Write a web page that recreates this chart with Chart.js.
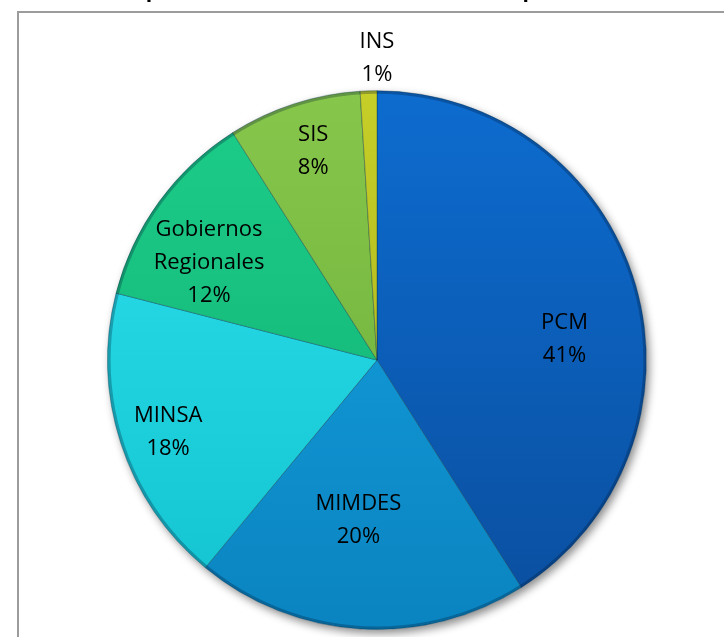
<!DOCTYPE html>
<html>
<head>
<meta charset="utf-8">
<script src="https://cdn.jsdelivr.net/npm/chart.js@4/dist/chart.umd.min.js"></script>
<style>
  html, body { margin: 0; padding: 0; background: #fff; overflow: hidden; }
  body { width: 724px; height: 637px; position: relative; }
  #marco { position: absolute; left: 17px; top: 11px; width: 800px; height: 700px; border: 2px solid #9c9c9c; box-sizing: border-box; }
  #caja { position: absolute; left: 0; top: -22px; width: 724px; height: 659px; }
</style>
</head>
<body>
<div id="marco"></div>
<div id="caja"><canvas id="torta"></canvas></div>
<script>
// datos del grafico
var entidades = ['PCM', 'MIMDES', 'MINSA', 'Gobiernos Regionales', 'SIS', 'INS'];
var lineasEtiqueta = [['PCM'], ['MIMDES'], ['MINSA'], ['Gobiernos', 'Regionales'], ['SIS'], ['INS']];
var porcentajes = [41, 20, 18, 12, 8, 1];
var titulo = 'Presupuesto destinado a contratación de personal 2007';

// estilos
var colorArriba = ['#0d6ccf', '#17a4e4', '#2ee2ee', '#1dcd8a', '#86c64b', '#c6ce28'];
var colorAbajo  = ['#0a4e9e', '#0a84c0', '#12c2cf', '#10ae70', '#6aac38', '#a6ae18'];
var radioEtiqueta = [0.70, 0.60, 0.82, 0.72, 0.81, 1.12]; // fraccion del radio
var giroEtiqueta = [10, 3, -1, -6, 1, 1.8];               // grados

function relleno(ctx) { // degradado vertical por porcion
    var area = ctx.chart.chartArea;
    var i = ctx.dataIndex;
    if (!area) return colorArriba[i];
    var g = ctx.chart.ctx.createLinearGradient(0, area.top, 0, area.bottom);
    g.addColorStop(0, colorArriba[i]);
    g.addColorStop(1, colorAbajo[i]);
    return g;
}

var sombra = { // sombra suave debajo de la torta y borde oscuro
    id: 'sombra',
    beforeDatasetsDraw: function (chart) {
        var arc = chart.getDatasetMeta(0).data[0];
        if (!arc) return;
        var c = chart.ctx;
        c.save();
        c.shadowColor = 'rgba(0,0,0,0.45)';
        c.shadowBlur = 9;
        c.shadowOffsetX = 3;
        c.shadowOffsetY = 4;
        c.beginPath();
        c.arc(arc.x, arc.y, arc.outerRadius, 0, Math.PI * 2);
        c.fillStyle = '#fff';
        c.fill();
        c.restore();
    },
    afterDatasetsDraw: function (chart) {
        var arc = chart.getDatasetMeta(0).data[0];
        if (!arc) return;
        var c = chart.ctx;
        c.save();
        c.beginPath();
        c.arc(arc.x, arc.y, arc.outerRadius - 1.5, 0, Math.PI * 2);
        c.strokeStyle = 'rgba(0,20,50,0.28)';
        c.lineWidth = 3;
        c.stroke();
        c.restore();
    }
};

var etiquetas = { // nombre y porcentaje de cada porcion
    id: 'etiquetas',
    afterDatasetsDraw: function (chart) {
        var c = chart.ctx;
        var meta = chart.getDatasetMeta(0);
        c.save();
        c.font = '22px "Open Sans"';
        c.fillStyle = '#000';
        c.textAlign = 'center';
        c.textBaseline = 'middle';
        meta.data.forEach(function (arc, i) {
            var medio = (arc.startAngle + arc.endAngle) / 2 + giroEtiqueta[i] * Math.PI / 180;
            var r = arc.outerRadius * radioEtiqueta[i];
            var x = arc.x + Math.cos(medio) * r;
            var y = arc.y + Math.sin(medio) * r;
            var lineas = lineasEtiqueta[i].concat([porcentajes[i] + '%']);
            var alto = 33;
            var y0 = y - (lineas.length - 1) * alto / 2;
            lineas.forEach(function (t, k) {
                c.fillText(t, x, y0 + k * alto);
            });
        });
        c.restore();
    }
};

new Chart(document.getElementById('torta'), {
    type: 'pie',
    data: {
        labels: entidades,
        datasets: [{
            data: porcentajes,
            backgroundColor: relleno,
            borderColor: 'rgba(0,40,60,0.35)',
            borderWidth: 1,
            hoverOffset: 0
        }]
    },
    options: {
        responsive: true,
        maintainAspectRatio: false,
        animation: false,
        layout: { padding: { left: 30, right: 0, top: 0, bottom: 7 } },
        plugins: {
            legend: { display: false },
            tooltip: { enabled: false },
            title: {
                display: true,
                text: titulo,
                color: '#000',
                font: { family: '"Open Sans"', size: 21, weight: 'bold' },
                padding: { top: 0, bottom: 87 }
            }
        }
    },
    plugins: [sombra, etiquetas]
});
</script>
</body>
</html>
